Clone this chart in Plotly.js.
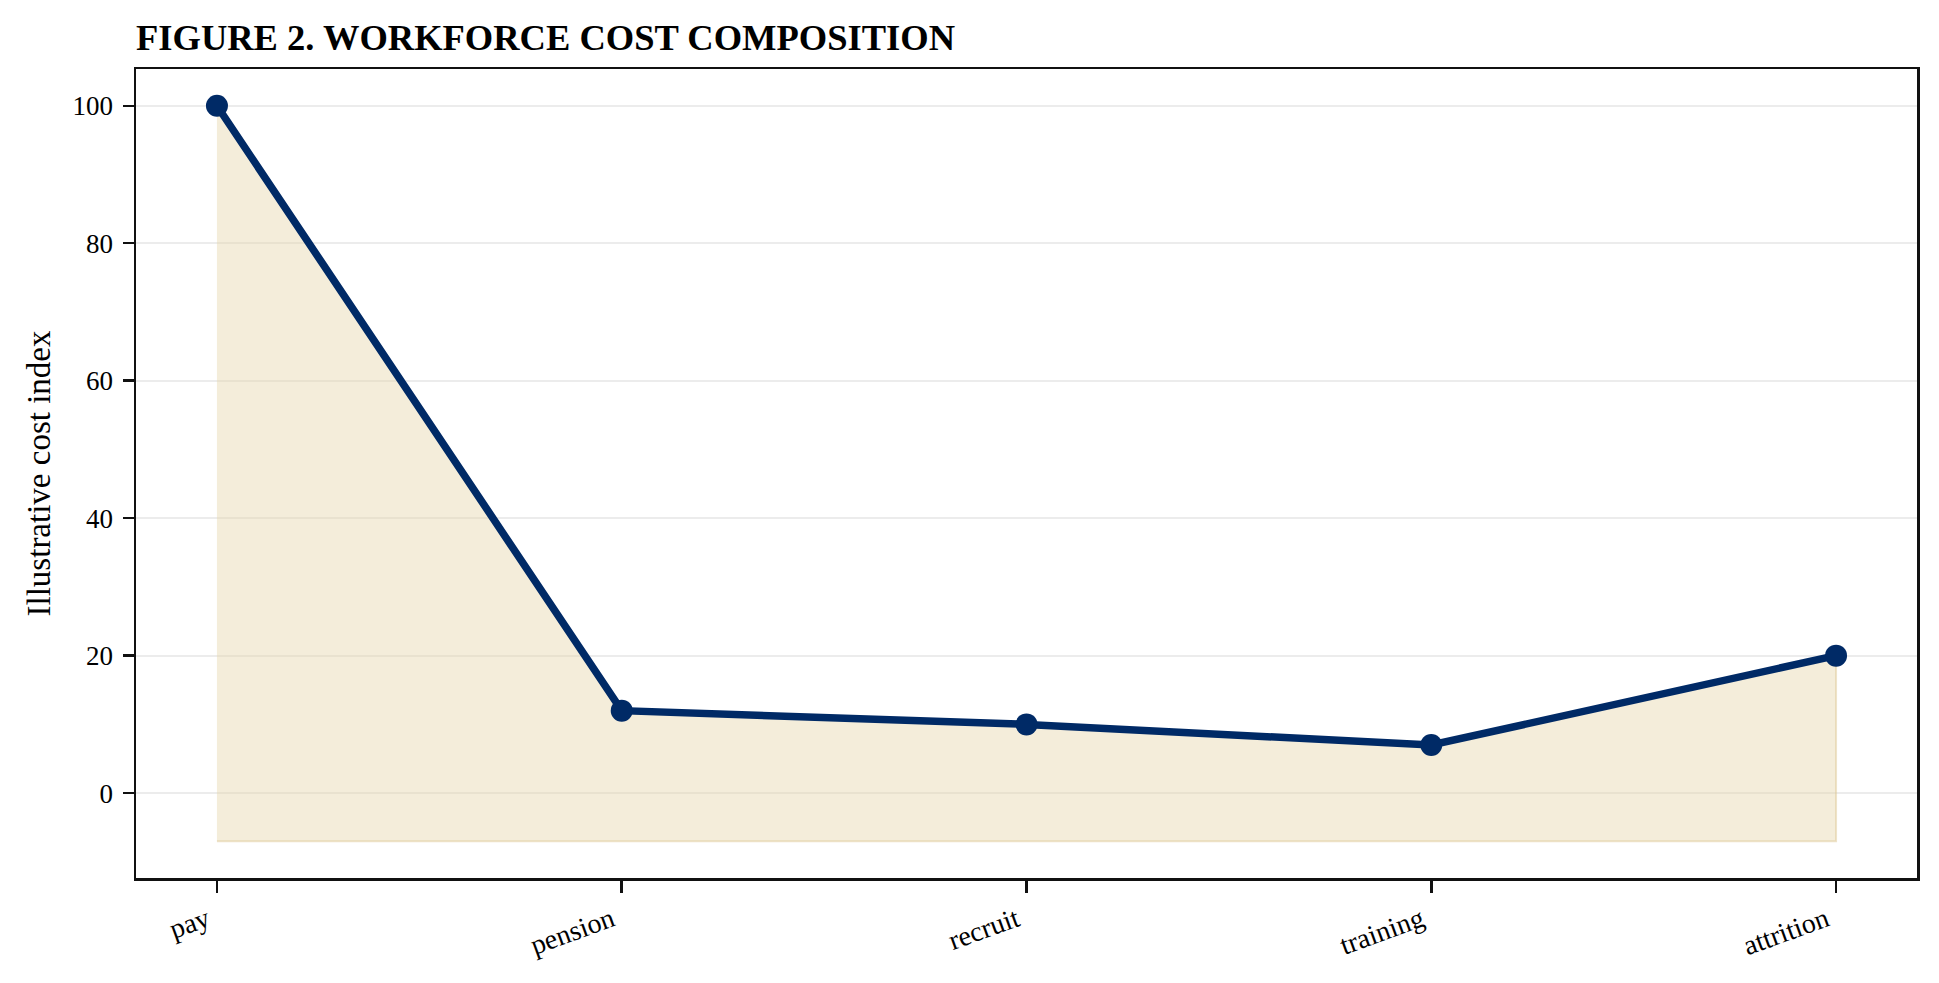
<!DOCTYPE html>
<html>
<head>
<meta charset="utf-8">
<script src="https://cdn.plot.ly/plotly-3.0.1.min.js"></script>
<style>
  html, body { margin: 0; padding: 0; background: #fff; }
  #chart { width: 1939px; height: 983px; }
</style>
</head>
<body>
<div id="chart"></div>
<script>
const categories = ['pay', 'pension', 'recruit', 'training', 'attrition']
const costIndex = [100, 12, 10, 7, 20]
const fillFloor = -7
const yTicks = [0, 20, 40, 60, 80, 100]

const navy = '#002a66'
const serif = '"Liberation Serif", "Times New Roman", serif'

// closed band from the line down to the floor
const bandX = categories.concat(categories.slice().reverse())
const bandY = costIndex.concat(categories.map(function() { return fillFloor }))

const data = [
  {
    x: bandX,
    y: bandY,
    type: 'scatter',
    mode: 'lines',
    fill: 'toself',
    fillcolor: 'rgba(230, 214, 173, 0.45)',
    line: { color: 'rgba(222, 200, 150, 0.5)', width: 2 },
    hoverinfo: 'skip',
    showlegend: false
  },
  {
    x: categories,
    y: costIndex,
    type: 'scatter',
    mode: 'lines+markers',
    line: { color: navy, width: 7.5 },
    marker: { color: navy, size: 22 },
    showlegend: false
  }
]

const layout = {
  width: 1939,
  height: 983,
  margin: { l: 136, r: 22, t: 69, b: 105 },
  paper_bgcolor: '#fff',
  plot_bgcolor: '#fff',
  font: { family: serif, color: '#000', size: 27 },
  title: {
    text: '<b>FIGURE 2. WORKFORCE COST COMPOSITION</b>',
    font: { family: serif, size: 36.5, color: '#000' },
    xref: 'paper', x: 0, xanchor: 'left',
    yref: 'paper', y: 1, yanchor: 'bottom',
    pad: { b: 19 }
  },
  xaxis: {
    type: 'category',
    range: [-0.2, categories.length - 0.8],
    showline: true, mirror: true, linecolor: '#111', linewidth: 2.5,
    ticks: 'outside', ticklen: 12, tickwidth: 2.5, tickcolor: '#111',
    tickangle: -20,
    ticklabelshift: -10,
    showgrid: false, zeroline: false,
    tickfont: { family: serif, size: 28 }
  },
  yaxis: {
    range: [-12.35, 105.35],
    tickvals: yTicks,
    showline: true, mirror: true, linecolor: '#111', linewidth: 2.5,
    ticks: 'outside', ticklen: 11, tickwidth: 2.5, tickcolor: '#111',
    ticklabelstandoff: 4,
    showgrid: true, gridcolor: '#ececec', gridwidth: 2,
    zeroline: false,
    tickfont: { family: serif, size: 27 },
    title: { text: 'Illustrative cost index', font: { family: serif, size: 33 }, standoff: 12 }
  }
}

const config = { responsive: false, displayModeBar: false, staticPlot: true }

Plotly.newPlot('chart', data, layout, config)
</script>
</body>
</html>
